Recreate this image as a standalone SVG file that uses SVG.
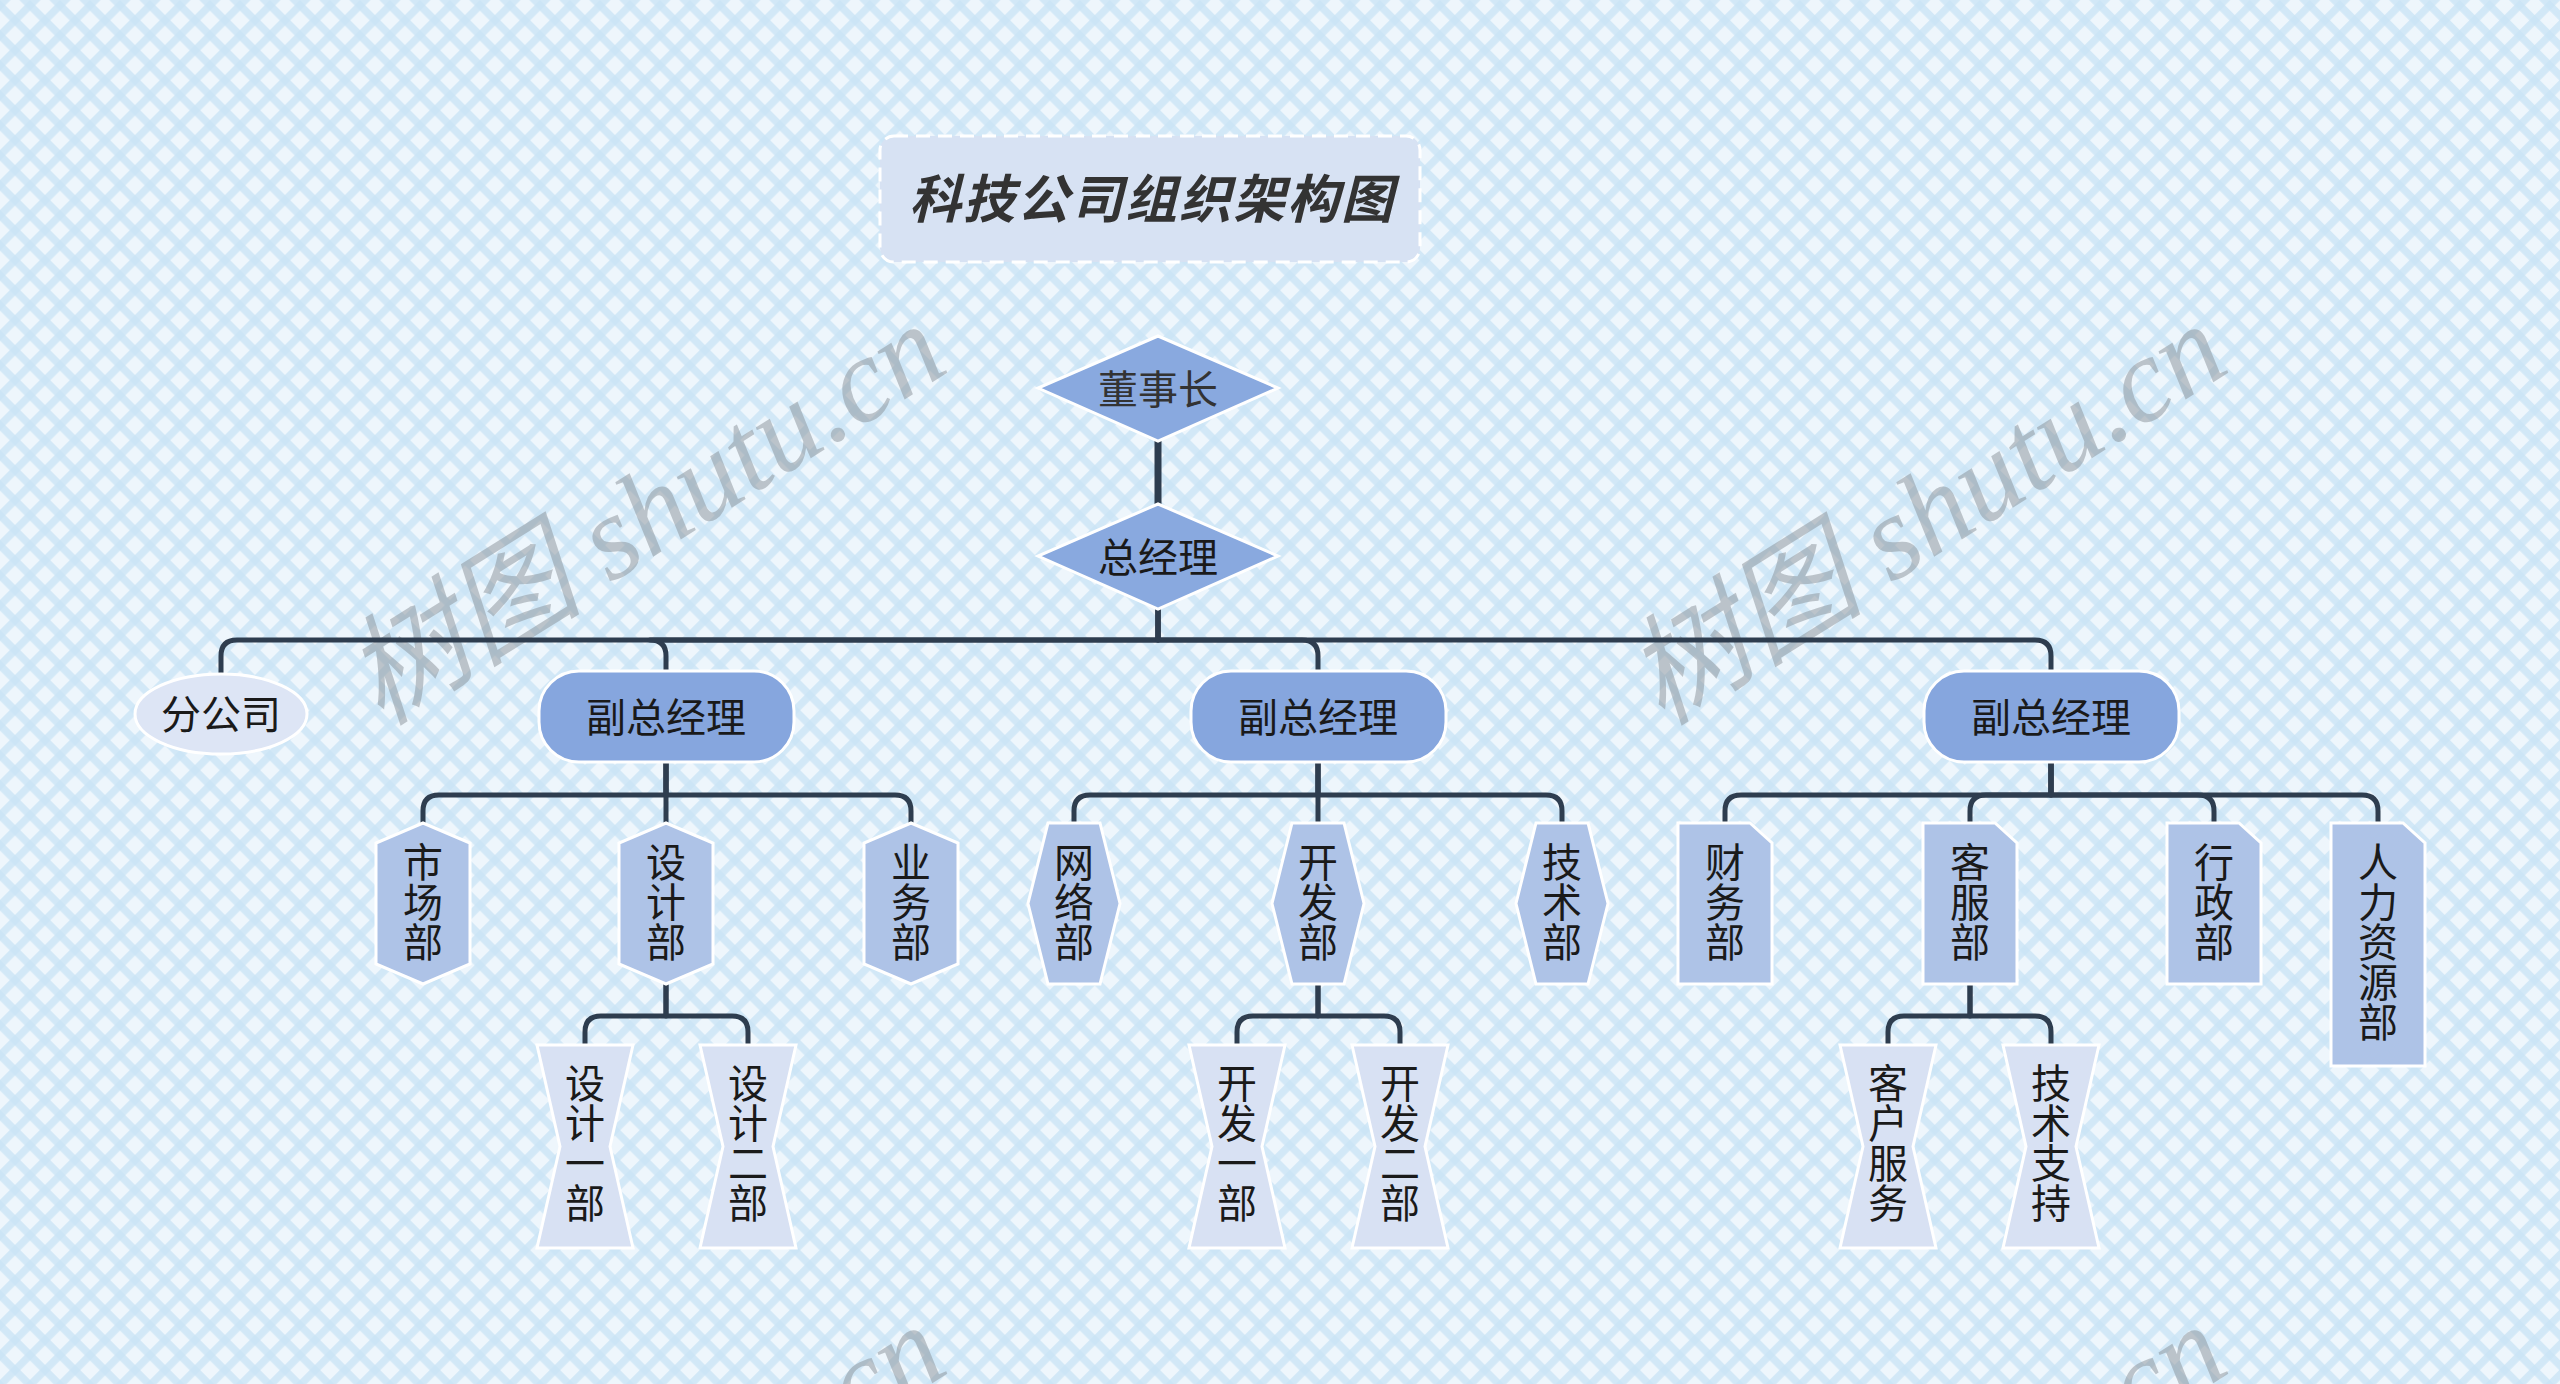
<svg xmlns="http://www.w3.org/2000/svg" width="2560" height="1384" viewBox="0 0 2560 1384">
<defs>
<pattern id="bg" patternUnits="userSpaceOnUse" width="21.21" height="21.21" patternTransform="rotate(45)">
<rect width="21.21" height="21.21" fill="#eef6fc"/>
<rect x="0" y="0" width="21.21" height="7.5" fill="#cbe5f6" opacity="0.8"/>
<rect x="0" y="0" width="7.5" height="21.21" fill="#cbe5f6" opacity="0.8"/>
</pattern>
<style>
.t{font-family:"Noto Sans CJK SC","Noto Sans",sans-serif;font-size:40px;fill:#1a1a1a;text-anchor:middle;dominant-baseline:central}
.v{font-family:"Noto Sans CJK SC","Noto Sans",sans-serif;font-size:40px;fill:#1a1a1a;text-anchor:middle;dominant-baseline:central}
.c{fill:none;stroke:#2e3d4f;stroke-width:5;stroke-linecap:butt;stroke-linejoin:round}
.top{fill:#89a9df;stroke:#ffffff;stroke-width:3}
.l1{fill:#86a6de;stroke:#ffffff;stroke-width:3}
.l2{fill:#aec3e7;stroke:#ffffff;stroke-width:3}
.l3{fill:#d8e1f3;stroke:#ffffff;stroke-width:3}
.wm{font-family:"Liberation Serif","Noto Sans CJK SC",serif;font-style:italic;font-size:120px;fill:#8a9299;opacity:0.5;text-anchor:middle;dominant-baseline:central}
</style>
</defs>
<rect width="2560" height="1384" fill="url(#bg)"/>

<g id="watermarks">
<text class="wm" transform="translate(645,514) rotate(-32)">树图 shutu.cn</text>
<text class="wm" transform="translate(1926,514) rotate(-32)">树图 shutu.cn</text>
<text class="wm" transform="translate(645,1515) rotate(-32)">树图 shutu.cn</text>
<text class="wm" transform="translate(1926,1515) rotate(-32)">树图 shutu.cn</text>
</g>

<g id="title">
<rect x="880" y="136" width="540" height="126" rx="14" fill="#d7e2f3" stroke="#ffffff" stroke-width="3" stroke-dasharray="14 8"/>
<text x="1152" y="195" font-family="'Noto Sans CJK SC',sans-serif" font-size="52" font-weight="700" font-style="italic" fill="#333333" text-anchor="middle" dominant-baseline="central" letter-spacing="2">科技公司组织架构图</text>
</g>

<g id="connectors">
<path d="M1158,441 V504" fill="none" stroke="#2e3d4f" stroke-width="7"/>
<path class="c" d="M1158,609 V640 H237 Q221,640 221,656 V676"/>
<path class="c" d="M1158,609 V640 H650 Q666,640 666,656 V671"/>
<path class="c" d="M1158,609 V640 H1302 Q1318,640 1318,656 V671"/>
<path class="c" d="M1158,609 V640 H2035 Q2051,640 2051,656 V671"/>
<path class="c" d="M666,762 V795 H439 Q423,795 423,811 V823"/>
<path class="c" d="M666,762 V823"/>
<path class="c" d="M666,762 V795 H895 Q911,795 911,811 V823"/>
<path class="c" d="M1318,762 V795 H1090 Q1074,795 1074,811 V823"/>
<path class="c" d="M1318,762 V823"/>
<path class="c" d="M1318,762 V795 H1546 Q1562,795 1562,811 V823"/>
<path class="c" d="M2051,762 V795 H1741 Q1725,795 1725,811 V823"/>
<path class="c" d="M2051,762 V795 H1986 Q1970,795 1970,811 V823"/>
<path class="c" d="M2051,762 V795 H2198 Q2214,795 2214,811 V823"/>
<path class="c" d="M2051,762 V795 H2362 Q2378,795 2378,811 V823"/>
<path class="c" d="M666,984 V1016 H601 Q585,1016 585,1032 V1045"/>
<path class="c" d="M666,984 V1016 H732 Q748,1016 748,1032 V1045"/>
<path class="c" d="M1318,984 V1016 H1253 Q1237,1016 1237,1032 V1045"/>
<path class="c" d="M1318,984 V1016 H1384 Q1400,1016 1400,1032 V1045"/>
<path class="c" d="M1970,984 V1016 H1904 Q1888,1016 1888,1032 V1045"/>
<path class="c" d="M1970,984 V1016 H2035 Q2051,1016 2051,1032 V1045"/>
</g>

<g id="n-chairman">
<polygon class="top" points="1158,336 1278,388 1158,441 1038,388"/>
<text class="t" x="1158" y="387" style="fill:#333333">董事长</text>
</g>
<g id="n-gm">
<polygon class="top" points="1158,504 1278,556 1158,609 1038,556"/>
<text class="t" x="1158" y="555">总经理</text>
</g>

<g id="n-branch">
<ellipse cx="221" cy="714" rx="86" ry="40" fill="#dde5f5" stroke="#ffffff" stroke-width="3"/>
<text class="t" x="221" y="712">分公司</text>
</g>
<g id="n-vp1">
<rect class="l1" x="539" y="671" width="255" height="91" rx="40"/>
<text class="t" x="666" y="715">副总经理</text>
</g>
<g id="n-vp2">
<rect class="l1" x="1191" y="671" width="255" height="91" rx="40"/>
<text class="t" x="1318" y="715">副总经理</text>
</g>
<g id="n-vp3">
<rect class="l1" x="1924" y="671" width="255" height="91" rx="40"/>
<text class="t" x="2051" y="715">副总经理</text>
</g>

<g id="n-market">
<polygon class="l2" points="423,823 470,843 470,964 423,984 376,964 376,843"/>
<text class="v"><tspan x="423" y="860">市</tspan><tspan x="423" y="900">场</tspan><tspan x="423" y="940">部</tspan></text>
</g>
<g id="n-design">
<polygon class="l2" points="666,823 713,843 713,964 666,984 619,964 619,843"/>
<text class="v"><tspan x="666" y="860">设</tspan><tspan x="666" y="900">计</tspan><tspan x="666" y="940">部</tspan></text>
</g>
<g id="n-business">
<polygon class="l2" points="911,823 958,843 958,964 911,984 864,964 864,843"/>
<text class="v"><tspan x="911" y="860">业</tspan><tspan x="911" y="900">务</tspan><tspan x="911" y="940">部</tspan></text>
</g>

<g id="n-network">
<polygon class="l2" points="1048,823 1100,823 1120,903.5 1100,984 1048,984 1028,903.5"/>
<text class="v"><tspan x="1074" y="860">网</tspan><tspan x="1074" y="900">络</tspan><tspan x="1074" y="940">部</tspan></text>
</g>
<g id="n-dev">
<polygon class="l2" points="1292,823 1344,823 1364,903.5 1344,984 1292,984 1272,903.5"/>
<text class="v"><tspan x="1318" y="860">开</tspan><tspan x="1318" y="900">发</tspan><tspan x="1318" y="940">部</tspan></text>
</g>
<g id="n-tech">
<polygon class="l2" points="1536,823 1588,823 1608,903.5 1588,984 1536,984 1516,903.5"/>
<text class="v"><tspan x="1562" y="860">技</tspan><tspan x="1562" y="900">术</tspan><tspan x="1562" y="940">部</tspan></text>
</g>

<g id="n-finance">
<path class="l2" d="M1678,823 H1750 L1772,843 V984 H1678 Z"/>
<text class="v"><tspan x="1725" y="860">财</tspan><tspan x="1725" y="900">务</tspan><tspan x="1725" y="940">部</tspan></text>
</g>
<g id="n-service">
<path class="l2" d="M1923,823 H1995 L2017,843 V984 H1923 Z"/>
<text class="v"><tspan x="1970" y="860">客</tspan><tspan x="1970" y="900">服</tspan><tspan x="1970" y="940">部</tspan></text>
</g>
<g id="n-admin">
<path class="l2" d="M2167,823 H2239 L2261,843 V984 H2167 Z"/>
<text class="v"><tspan x="2214" y="860">行</tspan><tspan x="2214" y="900">政</tspan><tspan x="2214" y="940">部</tspan></text>
</g>
<g id="n-hr">
<path class="l2" d="M2331,823 H2403 L2425,843 V1066 H2331 Z"/>
<text class="v"><tspan x="2378" y="860">人</tspan><tspan x="2378" y="900">力</tspan><tspan x="2378" y="940">资</tspan><tspan x="2378" y="980">源</tspan><tspan x="2378" y="1020">部</tspan></text>
</g>

<g id="n-design1">
<polygon class="l3" points="537,1045 633,1045 610,1146.5 633,1248 537,1248 560,1146.5"/>
<text class="v"><tspan x="585" y="1081">设</tspan><tspan x="585" y="1121">计</tspan><tspan x="585" y="1161">一</tspan><tspan x="585" y="1201">部</tspan></text>
</g>
<g id="n-design2">
<polygon class="l3" points="700,1045 796,1045 773,1146.5 796,1248 700,1248 723,1146.5"/>
<text class="v"><tspan x="748" y="1081">设</tspan><tspan x="748" y="1121">计</tspan><tspan x="748" y="1161">二</tspan><tspan x="748" y="1201">部</tspan></text>
</g>
<g id="n-dev1">
<polygon class="l3" points="1189,1045 1285,1045 1262,1146.5 1285,1248 1189,1248 1212,1146.5"/>
<text class="v"><tspan x="1237" y="1081">开</tspan><tspan x="1237" y="1121">发</tspan><tspan x="1237" y="1161">一</tspan><tspan x="1237" y="1201">部</tspan></text>
</g>
<g id="n-dev2">
<polygon class="l3" points="1352,1045 1448,1045 1425,1146.5 1448,1248 1352,1248 1375,1146.5"/>
<text class="v"><tspan x="1400" y="1081">开</tspan><tspan x="1400" y="1121">发</tspan><tspan x="1400" y="1161">二</tspan><tspan x="1400" y="1201">部</tspan></text>
</g>
<g id="n-customer">
<polygon class="l3" points="1840,1045 1936,1045 1913,1146.5 1936,1248 1840,1248 1863,1146.5"/>
<text class="v"><tspan x="1888" y="1081">客</tspan><tspan x="1888" y="1121">户</tspan><tspan x="1888" y="1161">服</tspan><tspan x="1888" y="1201">务</tspan></text>
</g>
<g id="n-support">
<polygon class="l3" points="2003,1045 2099,1045 2076,1146.5 2099,1248 2003,1248 2026,1146.5"/>
<text class="v"><tspan x="2051" y="1081">技</tspan><tspan x="2051" y="1121">术</tspan><tspan x="2051" y="1161">支</tspan><tspan x="2051" y="1201">持</tspan></text>
</g>
</svg>
